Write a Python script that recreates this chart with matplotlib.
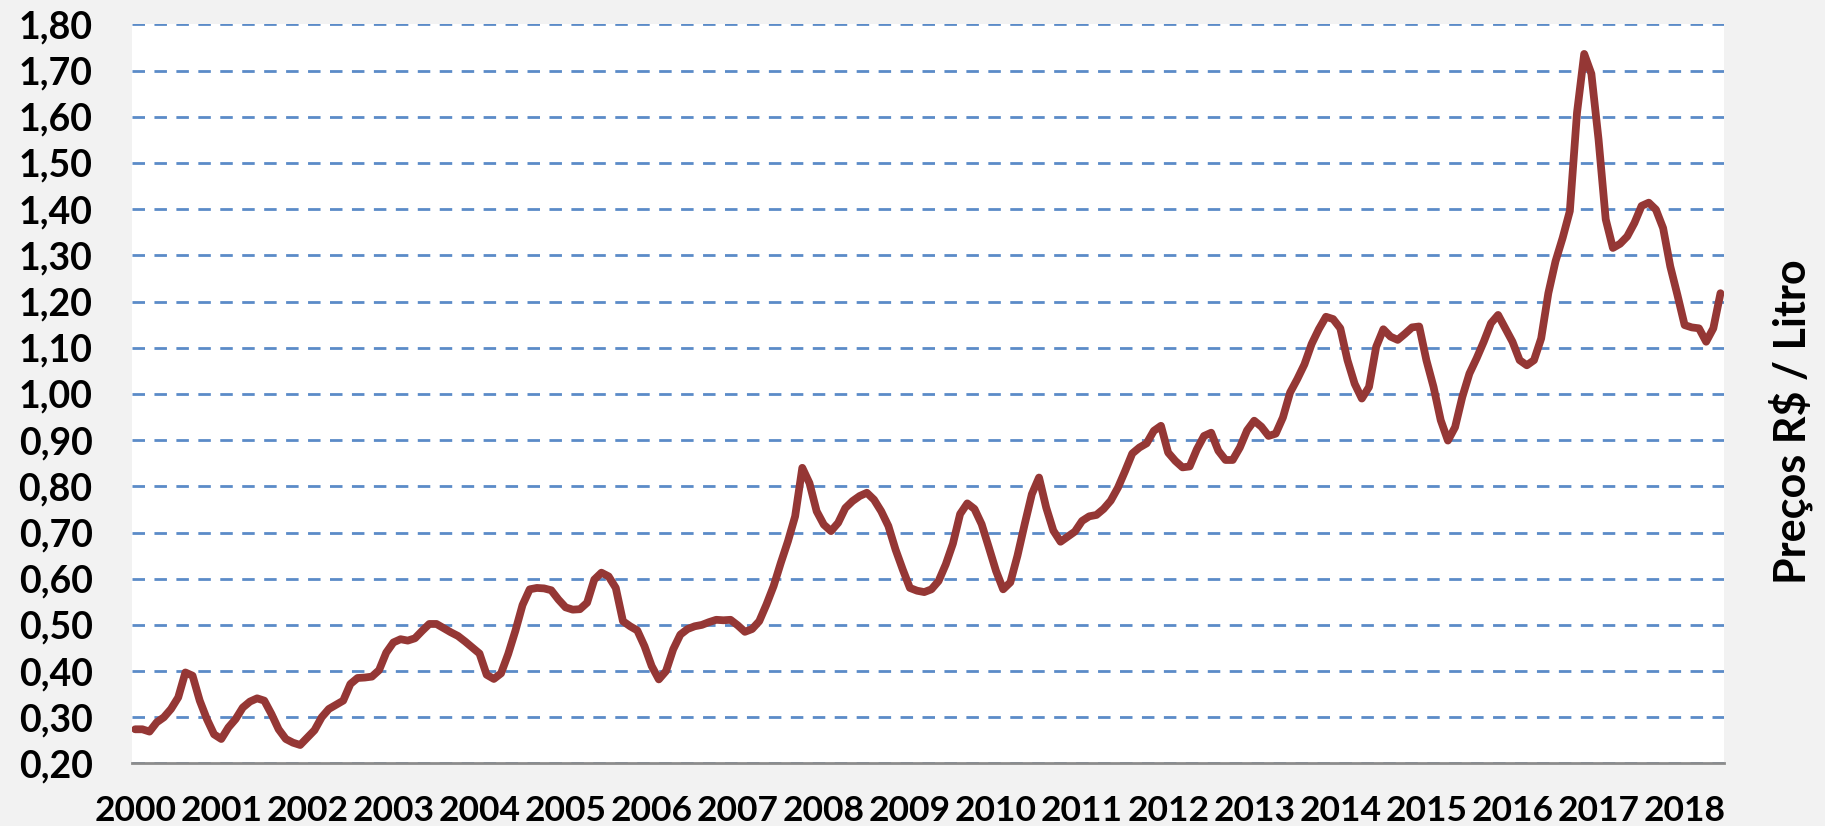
import matplotlib
matplotlib.use("Agg")
import matplotlib.pyplot as plt
from matplotlib.ticker import FixedLocator, FuncFormatter

# Preço médio mensal (R$/litro), jan/2000 a jun/2018
anos = [str(a) for a in range(2000, 2019)]
precos = [
    # 2000 - 2004 (até ago)
    0.274, 0.274, 0.269, 0.289, 0.300, 0.318, 0.343, 0.397, 0.390, 0.336,
    0.296, 0.263, 0.253, 0.278, 0.296, 0.321, 0.334, 0.341, 0.336, 0.307,
    0.274, 0.253, 0.245, 0.240, 0.256, 0.272, 0.300, 0.318, 0.327, 0.336,
    0.372, 0.385, 0.386, 0.388, 0.402, 0.440, 0.462, 0.469, 0.466, 0.471,
    0.487, 0.502, 0.502, 0.493, 0.484, 0.476, 0.464, 0.451, 0.438, 0.392,
    0.383, 0.395, 0.437, 0.487, 0.543, 0.577,
    # 2004 (set) - 2009
    0.580, 0.579, 0.575, 0.555, 0.538, 0.533, 0.534, 0.548, 0.598, 0.613,
    0.605, 0.580, 0.508, 0.497, 0.488, 0.454, 0.411, 0.382, 0.400, 0.447,
    0.479, 0.491, 0.497, 0.500, 0.506, 0.511, 0.510, 0.511, 0.499, 0.485,
    0.491, 0.508, 0.544, 0.584, 0.634, 0.681, 0.735, 0.840, 0.807, 0.746,
    0.717, 0.703, 0.721, 0.753, 0.768, 0.779, 0.786, 0.771, 0.746, 0.714,
    0.663, 0.620, 0.580, 0.574, 0.571,
    # 2009 - 2013
    0.577, 0.595, 0.631, 0.676, 0.740, 0.763, 0.751, 0.718, 0.668, 0.617,
    0.577, 0.592, 0.650, 0.718, 0.783, 0.819, 0.754, 0.704, 0.680, 0.691,
    0.702, 0.725, 0.735, 0.738, 0.751, 0.769, 0.797, 0.833, 0.871, 0.884,
    0.893, 0.920, 0.931, 0.873, 0.855, 0.841, 0.843, 0.880, 0.909, 0.916,
    0.877, 0.857, 0.857, 0.884, 0.921, 0.942, 0.929, 0.909, 0.914, 0.949,
    1.003, 1.032, 1.064, 1.108, 1.140, 1.167,
    # 2013 - 2018
    1.162, 1.142, 1.073, 1.022, 0.990, 1.015, 1.102, 1.140, 1.124, 1.117,
    1.130, 1.144, 1.146, 1.073, 1.015, 0.943, 0.899, 0.928, 0.993, 1.044,
    1.077, 1.113, 1.153, 1.171, 1.142, 1.113, 1.073, 1.062, 1.073, 1.120,
    1.218, 1.287, 1.338, 1.396, 1.609, 1.736, 1.693, 1.551, 1.378, 1.316,
    1.325, 1.341, 1.370, 1.407, 1.414, 1.399, 1.359, 1.276, 1.214, 1.149,
    1.144, 1.142, 1.113, 1.142, 1.218,
]
y_ticks = [0.2, 0.3, 0.4, 0.5, 0.6, 0.7, 0.8, 0.9, 1.0, 1.1, 1.2, 1.3, 1.4, 1.5, 1.6, 1.7, 1.8]

plt.rcParams['font.family'] = ['Lato', 'DejaVu Sans']
plt.rcParams['lines.scale_dashes'] = False

fig = plt.figure(figsize=(18.25, 8.26), dpi=100, facecolor='#f2f2f2')
ax = fig.add_axes([0.0721, 0.0757, 0.8726, 0.8948])
ax.set_facecolor('white')

meses = list(range(len(precos)))
ax.plot(meses, precos, color='#953735', linewidth=5.6,
        solid_joinstyle='round', solid_capstyle='round', zorder=3)

ax.set_xlim(-0.5, len(precos) - 0.5)
ax.set_ylim(0.2, 1.8)

# eixo Y com vírgula decimal
ax.yaxis.set_major_locator(FixedLocator(y_ticks))
ax.yaxis.set_major_formatter(FuncFormatter(lambda v, p: f"{v:.2f}".replace('.', ',')))
ax.xaxis.set_major_locator(FixedLocator([12 * i for i in range(len(anos))]))
ax.set_xticklabels(anos)

ax.grid(axis='y', color='#5b8bc8', linewidth=2.0, linestyle=(0, (9.0, 6.8)), zorder=1)
ax.set_axisbelow(True)

for s in ['left', 'right', 'top']:
    ax.spines[s].set_visible(False)
ax.spines['bottom'].set_color('#8c8c8c')
ax.spines['bottom'].set_linewidth(2)

ax.tick_params(axis='y', length=0, pad=28, labelsize=27)
ax.tick_params(axis='x', length=0, pad=23, labelsize=25.5)
for lab in ax.get_xticklabels() + ax.get_yticklabels():
    lab.set_fontweight('bold')

fig.text(0.981, 0.489, 'Preços R$ / Litro', rotation=90, ha='center', va='center',
         fontsize=31, fontweight='bold')

fig.savefig('out.png', dpi=100, facecolor=fig.get_facecolor())
